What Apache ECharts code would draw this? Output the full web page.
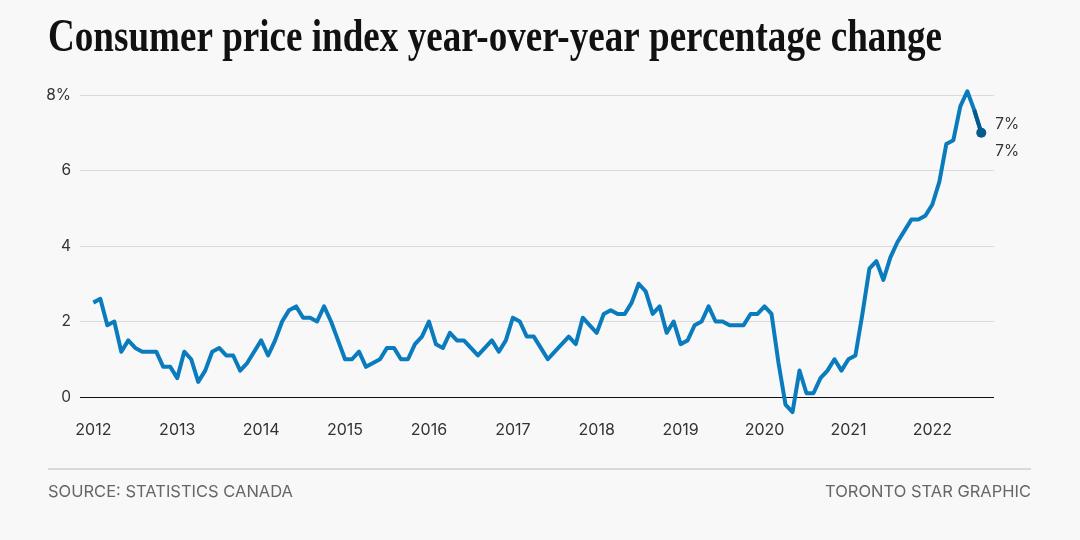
<!DOCTYPE html>
<html>
<head>
<meta charset="utf-8">
<script src="https://cdn.jsdelivr.net/npm/echarts@6/dist/echarts.min.js"></script>
<style>
html,body{margin:0;padding:0;background:#f8f8f8;}
#chart{width:1080px;height:540px;}
</style>
</head>
<body>
<div id="chart"></div>
<script>
// Data: Canada CPI year-over-year % change, monthly, Jan 2012 - Aug 2022
const startYear = 2012;
const cpi2012 = [2.5, 2.6, 1.9, 2.0, 1.2, 1.5, 1.3, 1.2, 1.2, 1.2, 0.8, 0.8];
const cpi2013 = [0.5, 1.2, 1.0, 0.4, 0.7, 1.2, 1.3, 1.1, 1.1, 0.7, 0.9, 1.2];
const cpi2014 = [1.5, 1.1, 1.5, 2.0, 2.3, 2.4, 2.1, 2.1, 2.0, 2.4, 2.0, 1.5];
const cpi2015 = [1.0, 1.0, 1.2, 0.8, 0.9, 1.0, 1.3, 1.3, 1.0, 1.0, 1.4, 1.6];
const cpi2016 = [2.0, 1.4, 1.3, 1.7, 1.5, 1.5, 1.3, 1.1, 1.3, 1.5, 1.2, 1.5];
const cpi2017 = [2.1, 2.0, 1.6, 1.6, 1.3, 1.0, 1.2, 1.4, 1.6, 1.4, 2.1, 1.9];
const cpi2018 = [1.7, 2.2, 2.3, 2.2, 2.2, 2.5, 3.0, 2.8, 2.2, 2.4, 1.7, 2.0];
const cpi2019 = [1.4, 1.5, 1.9, 2.0, 2.4, 2.0, 2.0, 1.9, 1.9, 1.9, 2.2, 2.2];
const cpi2020 = [2.4, 2.2, 0.9, -0.2, -0.4, 0.7, 0.1, 0.1, 0.5, 0.7, 1.0, 0.7];
const cpi2021 = [1.0, 1.1, 2.2, 3.4, 3.6, 3.1, 3.7, 4.1, 4.4, 4.7, 4.7, 4.8];
const cpi2022 = [5.1, 5.7, 6.7, 6.8, 7.7, 8.1, 7.6, 7.0];
const yearTicks = [2012, 2013, 2014, 2015, 2016, 2017, 2018, 2019, 2020, 2021, 2022];
const yTicks = [0, 2, 4, 6, 8];

const titleText = 'Consumer price index year-over-year percentage change';
const sourceText = 'SOURCE: STATISTICS CANADA';
const creditText = 'TORONTO STAR GRAPHIC';

const years = [cpi2012, cpi2013, cpi2014, cpi2015, cpi2016, cpi2017, cpi2018, cpi2019, cpi2020, cpi2021, cpi2022];
const points = [];
years.forEach((arr, yi) => {
  arr.forEach((v, mi) => points.push([startYear + yi + mi / 12, v]));
});
const lastTwo = points.slice(points.length - 2);
const lastVal = points[points.length - 1][1];

// condensed title via horizontal scale
const titleFont = 'bold 46px "Liberation Serif"';
const cv = document.createElement('canvas').getContext('2d');
cv.font = titleFont;
const titleW = cv.measureText(titleText).width;
const titleScale = 894 / titleW;

const chart = echarts.init(document.getElementById('chart'), null, {renderer: 'canvas'});
const LINE = '#0a7bbd';
const DARK = '#035a8c';

chart.setOption({
  backgroundColor: '#f8f8f8',
  animation: false,
  grid: {left: 80, right: 86, top: 95, bottom: 143, containLabel: false},
  xAxis: {
    type: 'value',
    min: 2011.841,
    max: 2022.735,
    axisLine: {show: false},
    axisTick: {show: false},
    splitLine: {show: false},
    axisLabel: {
      customValues: yearTicks,
      color: '#333',
      fontSize: 16,
      fontFamily: 'Inter',
      margin: 25,
      formatter: v => String(Math.round(v))
    }
  },
  yAxis: {
    type: 'value',
    min: 0,
    max: 8,
    interval: 2,
    axisLine: {show: false},
    axisTick: {show: false},
    splitLine: {show: true, lineStyle: {color: '#dadada', width: 1}},
    axisLabel: {
      color: '#333',
      fontSize: 15.5,
      fontFamily: 'Inter',
      margin: 9,
      formatter: v => (v === yTicks[yTicks.length - 1] ? v + '%' : String(v))
    }
  },
  series: [
    {
      type: 'line',
      data: points,
      clip: false,
      showSymbol: false,
      symbol: 'none',
      lineStyle: {color: LINE, width: 4, join: 'round'},
      z: 2,
      markLine: {
        silent: true,
        symbol: 'none',
        label: {show: false},
        lineStyle: {color: '#111', width: 1.2, type: 'solid'},
        data: [[{coord: [2011.841, 0]}, {coord: [2022.735, 0]}]],
        z: 1
      }
    },
    {
      type: 'line',
      data: lastTwo.map((p, i) => i === lastTwo.length - 1 ? {
        value: p,
        symbol: 'circle',
        symbolSize: 10,
        label: {
          show: true,
          position: 'right',
          distance: 9,
          offset: [0, 5],
          color: '#333',
          fontSize: 15.5,
          fontFamily: 'Inter',
          lineHeight: 27,
          formatter: () => Math.round(lastVal) + '%\n' + Math.round(lastVal) + '%'
        }
      } : {value: p, symbol: 'none'}),
      clip: false,
      showSymbol: true,
      itemStyle: {color: DARK},
      lineStyle: {color: DARK, width: 4},
      z: 3
    }
  ],
  graphic: [
    {
      type: 'text',
      x: 48,
      y: 39,
      scaleX: titleScale,
      style: {text: titleText, font: titleFont, fill: '#111', verticalAlign: 'middle', align: 'left'}
    },
    {
      type: 'line',
      shape: {x1: 48, y1: 469, x2: 1031, y2: 469},
      style: {stroke: '#cfcfcf', lineWidth: 1.5}
    },
    {
      type: 'text',
      x: 48,
      y: 492,
      style: {text: sourceText, font: '16.5px Inter', fill: '#666', verticalAlign: 'middle', align: 'left'}
    },
    {
      type: 'text',
      x: 1031,
      y: 492,
      style: {text: creditText, font: '16.5px Inter', fill: '#666', verticalAlign: 'middle', align: 'right'}
    }
  ]
});
</script>
</body>
</html>
